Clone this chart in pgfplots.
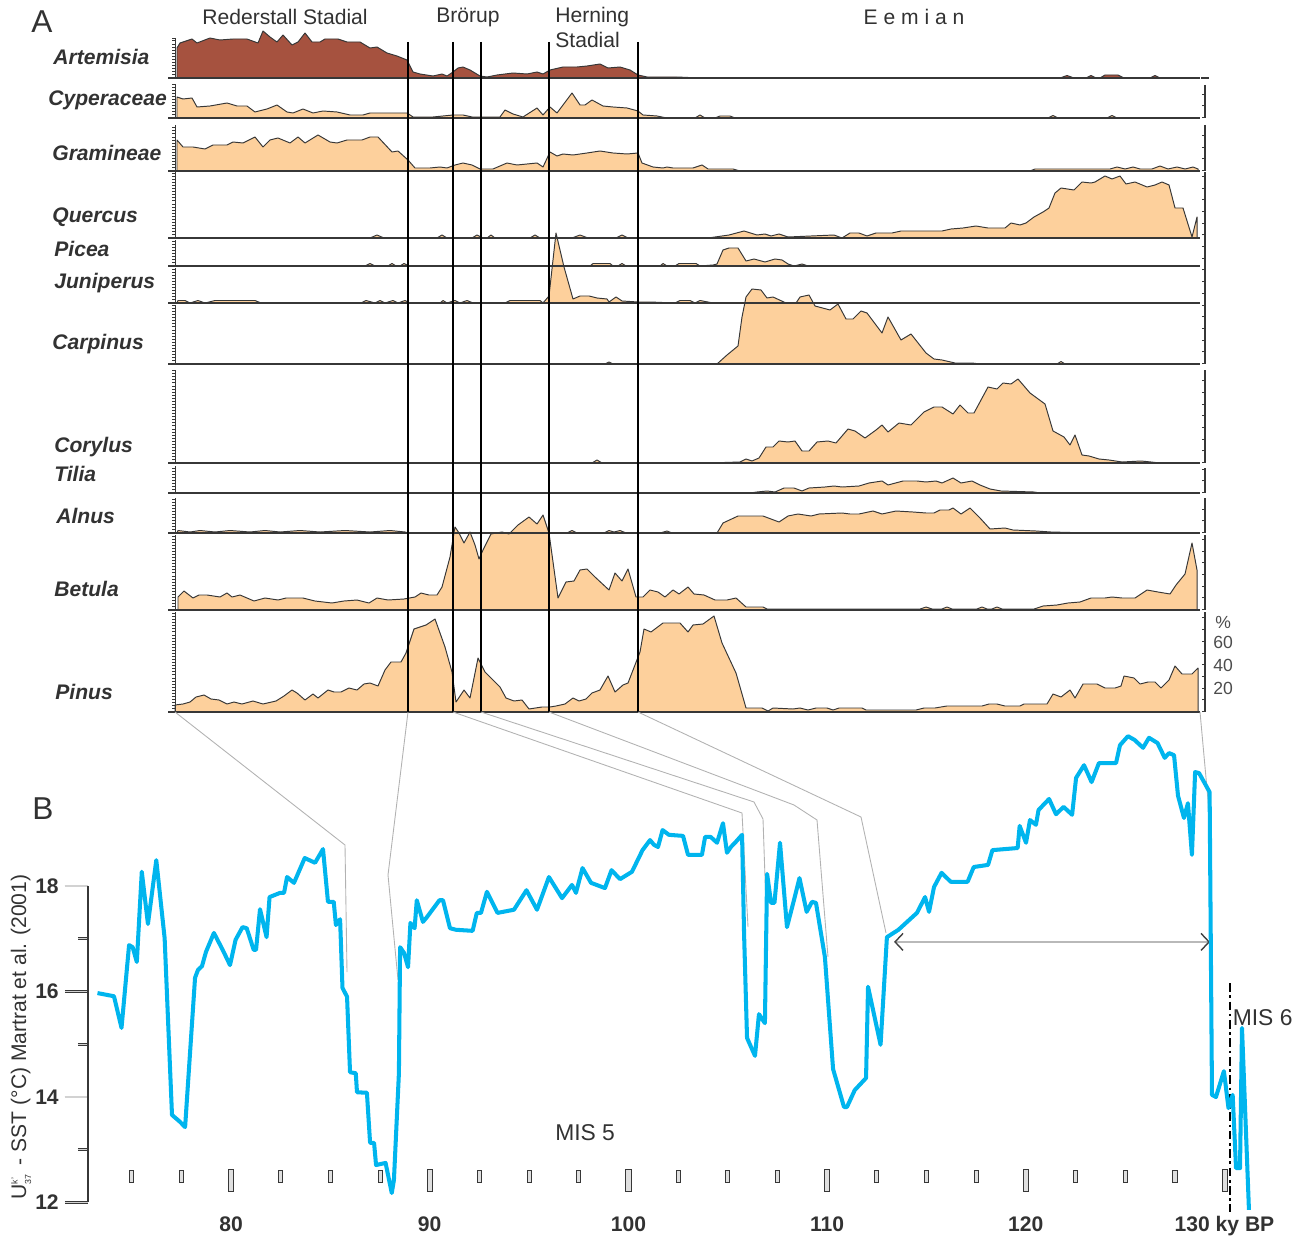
\documentclass[border=0pt]{standalone}
\usepackage{pgfplots}
\pgfplotsset{compat=1.18}
\usepackage{pgfplotstable}
\usepackage{fontspec}
\setmainfont{Liberation Sans}
\usetikzlibrary{arrows.meta}

\definecolor{pol}{RGB}{253,208,156}
\definecolor{artred}{RGB}{166,82,63}
\definecolor{outl}{RGB}{55,55,55}
\definecolor{sst}{RGB}{0,181,238}
\definecolor{txt}{RGB}{50,50,50}

% pollen strips: x = sample position (depth axis, px), h = curve height above strip baseline
\pgfplotstableread[row sep=\\]{x h\\177 0\\177 30\\180 35\\192 39\\197 35\\210 40\\220 38\\233 39\\247 39\\258 35\\263 47\\270 41\\277 36\\283 43\\292 33\\298 36\\305 45\\312 36\\320 36\\325 39\\338 39\\347 36\\360 36\\370 30\\377 31\\387 25\\397 22\\407 18\\413 6\\420 4\\433 2\\442 4\\447 2\\453 6\\458 10\\463 11\\470 8\\480 2\\487 1\\497 3\\513 5\\527 4\\537 6\\543 4\\550 8\\563 11\\577 11\\587 12\\600 14\\608 10\\620 11\\630 8\\638 3\\647 1\\677 1\\700 0\\1060 0\\1067 2.5\\1074 0\\1086 0\\1091 2.5\\1096 0\\1100 0\\1105 3\\1118 3\\1124 0\\1150 0\\1155 2.5\\1160 0\\1198 0\\}\tArt
\pgfplotstableread[row sep=\\]{x h\\177 0\\177 21\\183 19\\192 20\\197 11\\210 12\\227 15\\237 12\\247 12\\255 6\\267 9\\277 13\\287 6\\293 5\\303 9\\313 5\\323 7\\337 6\\350 3\\363 3\\370 5\\407 5\\413 1\\433 1\\453 3\\463 3\\472 1\\500 1\\505 8\\513 4\\523 1\\537 10\\543 3\\550 11\\557 5\\572 25\\580 13\\585 13\\592 18\\603 12\\613 11\\627 10\\638 7\\643 3\\657 2\\667 0\\695 0\\700 3\\705 0\\715 0\\720 2\\730 2\\735 0\\1048 0\\1053 2.5\\1058 0\\1107 0\\1112 2.5\\1117 0\\1198 0\\}\tCyp
\pgfplotstableread[row sep=\\]{x h\\177 0\\177 31\\183 24\\193 24\\205 22\\213 26\\227 26\\233 29\\243 28\\255 34\\263 24\\270 31\\278 33\\290 28\\298 34\\305 28\\318 36\\330 29\\337 28\\347 31\\362 31\\370 34\\378 34\\392 19\\398 20\\408 11\\415 3\\430 3\\440 4\\447 3\\455 6\\463 8\\472 6\\480 2\\493 2\\507 8\\517 6\\537 8\\543 4\\550 19\\557 15\\563 17\\573 16\\587 18\\600 20\\613 18\\627 17\\638 18\\642 8\\653 4\\663 3\\667 4\\673 3\\693 3\\702 6\\708 2\\733 2\\740 0\\1030 0\\1035 2\\1110 2\\1117 4\\1125 2\\1133 4\\1140 2\\1152 2\\1160 5\\1168 2\\1177 4\\1185 2\\1193 4\\1198 2\\1198 0\\}\tGra
\pgfplotstableread[row sep=\\]{x h\\177 0\\370 0\\377 3\\384 0\\437 0\\442 3\\447 0\\472 0\\477 3\\483 0\\487 0\\491 3\\495 0\\530 0\\535 3\\540 0\\572 0\\580 3\\588 0\\616 0\\622 3\\628 0\\708 0\\729 3\\744 7\\757 3\\765 4\\771 2\\779 4\\788 1\\834 3\\842 0\\850 5\\859 5\\867 2\\876 5\\892 5\\901 7\\942 7\\951 9\\963 10\\976 12\\988 10\\1005 10\\1011 15\\1020 13\\1026 15\\1034 21\\1043 26\\1049 30\\1055 45\\1061 50\\1074 48\\1082 56\\1091 55\\1095 56\\1105 62\\1112 59\\1120 62\\1126 54\\1135 56\\1147 51\\1155 53\\1162 56\\1169 53\\1175 30\\1183 30\\1192 1\\1197 21\\1197 0\\}\tQue
\pgfplotstableread[row sep=\\]{x h\\177 0\\365 0\\370 2.5\\375 0\\388 0\\392 2.5\\396 0\\400 0\\404 2.5\\409 0\\590 0\\593 2.5\\610 2.5\\613 0\\618 0\\622 2.5\\626 0\\660 0\\663 2.5\\667 0\\675 0\\679 2.5\\696 2.5\\700 0\\713 1\\717 2\\723 16\\729 18\\738 18\\746 5\\754 7\\765 4\\775 7\\782 6\\788 2\\794 0\\802 2\\808 0\\1198 0\\}\tPic
\pgfplotstableread[row sep=\\]{x h\\177 0\\178 2.5\\185 2.5\\190 0\\198 2.5\\205 0\\215 2.5\\255 2.5\\261 0\\361 0\\366 2.5\\375 0\\380 2.5\\385 0\\393 2.5\\398 0\\405 2.5\\410 0\\440 0\\443 2.5\\447 0\\455 2.5\\460 0\\467 2.5\\473 0\\505 0\\510 2.5\\540 2.5\\543 0\\549 7\\556 70\\564 36\\573 4\\580 7\\589 7\\597 5\\607 4\\609 1\\616 6\\622 2\\638 1\\650 1\\675 0\\680 2.5\\690 2.5\\695 0\\700 2.5\\713 0\\1198 0\\}\tJun
\pgfplotstableread[row sep=\\]{x h\\177 0\\605 0\\609 2\\613 0\\717 0\\727 9\\738 18\\742 47\\746 67\\752 75\\761 74\\767 66\\773 67\\786 61\\796 61\\800 67\\809 69\\815 58\\830 54\\838 60\\846 45\\853 45\\861 53\\867 51\\882 31\\888 47\\901 24\\911 30\\926 11\\934 5\\942 4\\955 1\\972 1\\980 0\\1057 0\\1061 2.5\\1065 0\\1198 0\\}\tCar
\pgfplotstableread[row sep=\\]{x h\\177 0\\592 0\\597 3\\602 0\\708 0\\740 1\\746 4\\752 2\\759 5\\766 16\\773 16\\779 22\\788 21\\795 22\\802 12\\809 12\\817 21\\828 22\\836 20\\848 34\\855 32\\865 25\\876 33\\882 38\\888 31\\899 40\\911 38\\924 51\\934 56\\942 56\\953 49\\960 58\\968 50\\974 50\\988 76\\997 74\\1003 80\\1011 79\\1018 84\\1030 70\\1045 59\\1053 32\\1064 26\\1070 18\\1075 28\\1082 8\\1089 7\\1099 4\\1109 3\\1122 1\\1141 2\\1151 1\\1160 0\\1198 0\\}\tCor
\pgfplotstableread[row sep=\\]{x h\\177 0\\750 0\\757 1\\767 2\\775 1\\784 5\\794 5\\802 2\\809 5\\825 6\\834 7\\842 6\\859 7\\869 10\\882 12\\888 8\\903 12\\917 12\\926 11\\936 12\\942 10\\953 15\\961 10\\972 12\\980 8\\990 4\\1001 2\\1034 1\\1040 0\\1198 0\\}\tTil
\pgfplotstableread[row sep=\\]{x h\\177 0\\178 2.5\\190 1\\200 2.5\\215 1\\230 2.5\\250 1\\265 2.5\\280 1\\300 2.5\\320 1\\345 2.5\\370 1\\390 2.5\\405 1\\408 0\\560 0\\567 0\\572 2.5\\577 0\\604 0\\609 2.5\\614 1\\620 2.5\\626 0\\660 0\\667 2\\672 0\\717 0\\723 10\\738 17\\763 17\\779 11\\788 17\\798 19\\811 17\\819 19\\842 20\\850 19\\859 19\\873 22\\882 19\\896 22\\913 21\\926 20\\934 20\\940 23\\949 23\\953 25\\961 19\\970 25\\980 15\\990 4\\1005 5\\1013 3\\1036 2\\1051 1\\1091 0\\1198 0\\}\tAln
\pgfplotstableread[row sep=\\]{x h\\178 0\\178 13\\184 19\\193 12\\199 15\\207 15\\220 13\\227 17\\232 13\\240 15\\254 9\\265 12\\278 10\\286 12\\303 12\\315 9\\332 7\\344 9\\357 10\\369 7\\377 12\\388 10\\404 11\\415 13\\421 17\\429 15\\437 15\\442 23\\450 53\\455 83\\459 77\\464 67\\470 78\\475 65\\479 51\\483 60\\491 76\\502 78\\509 76\\518 85\\529 93\\537 86\\543 95\\549 77\\558 12\\566 28\\574 29\\580 40\\587 41\\595 33\\609 20\\615 37\\622 29\\628 41\\636 13\\643 13\\650 20\\658 18\\665 13\\673 20\\679 16\\688 23\\694 16\\704 15\\715 10\\727 10\\736 12\\746 3\\763 3\\767 1\\920 1\\926 3\\932 1\\942 1\\947 3\\952 1\\977 1\\982 3\\987 1\\992 1\\997 3\\1002 1\\1034 1\\1043 4\\1057 5\\1068 7\\1080 8\\1091 12\\1105 12\\1112 13\\1122 12\\1135 12\\1147 20\\1158 18\\1170 16\\1176 25\\1185 36\\1192 67\\1197 40\\1197 0\\}\tBet
\pgfplotstableread[row sep=\\]{x h\\175 0\\175 7\\183 8\\190 10\\196 15\\204 17\\211 13\\219 12\\227 8\\234 10\\242 8\\253 11\\263 8\\276 11\\284 16\\292 22\\297 19\\305 12\\313 18\\318 14\\328 22\\334 20\\341 20\\349 24\\357 22\\364 28\\370 29\\378 26\\385 42\\391 50\\401 50\\406 59\\414 83\\426 87\\435 93\\445 65\\452 40\\456 10\\464 22\\470 14\\478 54\\485 40\\491 34\\500 25\\506 14\\514 11\\522 12\\529 3\\542 5\\550 5\\556 6\\565 8\\573 14\\579 11\\586 13\\592 19\\600 22\\608 36\\615 20\\623 27\\628 29\\640 60\\644 83\\651 80\\663 89\\680 89\\688 80\\693 87\\703 88\\714 96\\722 69\\736 39\\746 4\\762 4\\768 1\\773 4\\793 3\\800 4\\808 2\\816 4\\827 4\\833 2\\839 4\\862 4\\866 2\\916 2\\924 4\\935 4\\947 6\\982 6\\989 8\\997 8\\1005 6\\1020 6\\1024 8\\1047 8\\1053 18\\1061 15\\1070 22\\1075 14\\1083 28\\1097 28\\1105 24\\1115 24\\1121 26\\1124 36\\1134 34\\1140 28\\1148 30\\1155 30\\1161 24\\1169 32\\1175 46\\1182 38\\1192 38\\1198 44\\1198 0\\}\tPin

% SST record: age (ky BP), Uk'37 SST (deg C)
\pgfplotstableread[row sep=\\]{x y\\73.28 15.97\\74.11 15.91\\74.49 15.31\\74.87 16.88\\75.05 16.84\\75.26 16.56\\75.51 18.27\\75.82 17.28\\76.24 18.49\\76.66 17.01\\77.03 13.66\\77.43 13.53\\77.69 13.43\\78.19 16.26\\78.34 16.41\\78.54 16.48\\78.74 16.75\\79.14 17.11\\79.58 16.79\\79.95 16.50\\80.23 16.98\\80.58 17.22\\80.79 17.20\\81.14 16.79\\81.26 16.79\\81.46 17.56\\81.79 17.03\\81.94 17.79\\82.47 17.87\\82.67 17.87\\82.82 18.17\\83.17 18.06\\83.71 18.53\\84.23 18.44\\84.63 18.70\\84.88 17.70\\85.17 17.70\\85.28 17.26\\85.49 17.37\\85.61 16.07\\85.84 15.90\\85.99 14.47\\86.28 14.45\\86.34 14.09\\86.84 14.08\\87.00 13.13\\87.20 13.13\\87.30 12.71\\87.78 12.75\\88.09 12.18\\88.20 12.43\\88.45 14.45\\88.51 16.84\\88.71 16.73\\88.91 16.46\\89.03 17.30\\89.24 17.20\\89.35 17.73\\89.66 17.32\\89.86 17.41\\90.49 17.73\\90.67 17.73\\91.02 17.20\\91.32 17.17\\92.16 17.15\\92.37 17.49\\92.58 17.49\\92.88 17.89\\93.41 17.49\\94.24 17.55\\94.87 17.92\\95.40 17.55\\96.00 18.17\\96.66 17.77\\97.16 18.02\\97.36 17.87\\97.69 18.34\\98.12 18.06\\98.82 17.96\\99.15 18.30\\99.58 18.13\\100.18 18.27\\100.71 18.68\\101.09 18.87\\101.29 18.78\\101.49 18.74\\101.72 19.06\\102.04 18.97\\102.75 18.95\\103.00 18.59\\103.70 18.59\\103.86 18.93\\104.14 18.93\\104.46 18.82\\104.76 19.19\\104.96 18.63\\105.16 18.74\\105.39 18.83\\105.72 18.97\\105.82 17.11\\105.97 15.12\\106.37 14.78\\106.57 15.57\\106.87 15.40\\106.98 18.23\\107.18 17.68\\107.35 17.68\\107.63 18.82\\107.98 17.22\\108.33 17.73\\108.61 18.15\\108.97 17.51\\109.24 17.70\\109.44 17.68\\109.89 16.65\\110.30 14.53\\110.85 13.81\\111.00 13.81\\111.39 14.13\\111.96 14.36\\112.06 16.09\\112.69 14.99\\113.01 17.03\\113.59 17.17\\114.52 17.49\\114.93 17.79\\115.13 17.51\\115.38 17.98\\115.76 18.25\\116.22 18.08\\117.07 18.08\\117.38 18.36\\118.10 18.40\\118.32 18.68\\119.59 18.72\\119.69 19.14\\120.01 18.82\\120.21 19.25\\120.51 19.16\\120.64 19.44\\121.17 19.65\\121.52 19.36\\121.90 19.50\\122.33 19.35\\122.53 20.05\\122.93 20.29\\123.31 19.97\\123.68 20.33\\124.54 20.33\\124.74 20.67\\125.14 20.84\\125.47 20.77\\125.90 20.62\\126.20 20.81\\126.63 20.71\\126.99 20.43\\127.21 20.52\\127.46 20.48\\127.66 19.71\\127.96 19.29\\128.16 19.57\\128.36 18.59\\128.52 20.16\\128.72 20.14\\129.25 19.78\\129.37 14.04\\129.57 14.00\\129.97 14.49\\130.20 13.79\\130.41 14.04\\130.58 12.65\\130.78 12.65\\130.88 15.31\\131.23 11.86\\}\tSST

\pgfplotsset{strip/.style={fill=#1, draw=outl, line width=0.55pt, line join=round, mark=none}}
\newcommand{\taxfont}{\bfseries\itshape\fontsize{12}{14}\selectfont}
\newcommand{\hdfont}{\fontsize{12}{14}\selectfont}
\newcommand{\ruler}[2]{%
  \draw[outl, line width=0.5pt] (axis cs:175,#1) -- (axis cs:175,#2);
  \draw[outl, line width=1.6pt, dash pattern=on 0.35pt off 1.4pt] (axis cs:173.3,#2) -- (axis cs:173.3,#1);}
\newcommand{\rruler}[2]{%
  \draw[outl, line width=0.6pt] (axis cs:1205,#1) -- (axis cs:1205,#2);
  \draw[outl, line width=1.6pt, dash pattern=on 0.5pt off 6.16pt] (axis cs:1203.4,#2) -- (axis cs:1203.4,#1);}
\newcommand{\baseln}[1]{\draw[outl, line width=1.1pt] (axis cs:168,#1) -- (axis cs:1200,#1);}
\tikzset{tax/.style={anchor=west, inner sep=0pt, text=txt, font=\taxfont}}

\begin{document}
\begin{tikzpicture}
\useasboundingbox (0,0) rectangle (261mm,248.6mm);
% ---------- Panel A: pollen diagram ----------
\begin{axis}[at={(0,0)}, anchor=south west, scale only axis,
  width=261mm, height=248.6mm, xmin=0, xmax=1305, ymin=0, ymax=1243,
  y dir=reverse, hide axis, clip=false]
\addplot[strip=artred] table[x=x, y expr=78-\thisrow{h}] {\tArt};
\addplot[strip=pol] table[x=x, y expr=118-\thisrow{h}] {\tCyp};
\addplot[strip=pol] table[x=x, y expr=171-\thisrow{h}] {\tGra};
\addplot[strip=pol] table[x=x, y expr=238-\thisrow{h}] {\tQue};
\addplot[strip=pol] table[x=x, y expr=266-\thisrow{h}] {\tPic};
\addplot[strip=pol] table[x=x, y expr=303-\thisrow{h}] {\tJun};
\addplot[strip=pol] table[x=x, y expr=364-\thisrow{h}] {\tCar};
\addplot[strip=pol] table[x=x, y expr=463-\thisrow{h}] {\tCor};
\addplot[strip=pol] table[x=x, y expr=493-\thisrow{h}] {\tTil};
\addplot[strip=pol] table[x=x, y expr=533-\thisrow{h}] {\tAln};
\addplot[strip=pol] table[x=x, y expr=610-\thisrow{h}] {\tBet};
\addplot[strip=pol] table[x=x, y expr=712-\thisrow{h}] {\tPin};
% baselines
\baseln{78}\baseln{118}\baseln{171}\baseln{238}\baseln{266}\baseln{303}
\baseln{364}\baseln{463}\baseln{493}\baseln{533}\baseln{610}\baseln{712}
\draw[outl, line width=1.1pt] (axis cs:1201,78) -- (axis cs:1209,78);
% left rulers
\ruler{38}{78}\ruler{84}{118}\ruler{125}{171}\ruler{172}{238}\ruler{240}{266}
\ruler{268}{303}\ruler{305}{364}\ruler{370}{463}\ruler{466}{493}\ruler{498}{533}
\ruler{535}{610}\ruler{612}{712}
% right rulers
\rruler{85}{118}\rruler{125}{171}\rruler{172}{364}\rruler{370}{463}\rruler{468}{493}
\rruler{498}{533}\rruler{535}{610}\rruler{612}{712}
% zone boundaries
\foreach \z in {408,453,481,549,638}{\edef\tmp{\noexpand\draw[black, line width=0.9pt] (axis cs:\z,42) -- (axis cs:\z,712);}\tmp}
% pinus scale
\node[anchor=west, inner sep=0pt, text=black!70, font=\fontsize{10}{10}\selectfont] at (axis cs:1213,688) {20};
\node[anchor=west, inner sep=0pt, text=black!70, font=\fontsize{10}{10}\selectfont] at (axis cs:1213,665) {40};
\node[anchor=west, inner sep=0pt, text=black!70, font=\fontsize{10}{10}\selectfont] at (axis cs:1213,642) {60};
\node[anchor=west, inner sep=0pt, text=black!70, font=\fontsize{10}{10}\selectfont] at (axis cs:1215,622) {\%};
% taxa names
\node[tax] at (axis cs:53,57) {Artemisia};
\node[tax] at (axis cs:48,100) {Cyperaceae};
\node[tax] at (axis cs:52,153) {Gramineae};
\node[tax] at (axis cs:52,217) {Quercus};
\node[tax] at (axis cs:54,249) {Picea};
\node[tax] at (axis cs:54,283) {Juniperus};
\node[tax] at (axis cs:52,344) {Carpinus};
\node[tax] at (axis cs:54,447) {Corylus};
\node[tax] at (axis cs:54,474) {Tilia};
\node[tax] at (axis cs:56,516) {Alnus};
\node[tax] at (axis cs:54,589) {Betula};
\node[tax] at (axis cs:55,692) {Pinus};
% headings
\node[text=txt, font=\fontsize{18}{18}\selectfont] at (axis cs:42,22) {A};
\node[text=txt, font=\fontsize{18}{18}\selectfont] at (axis cs:43,809) {B};
\node[text=txt, font=\hdfont] at (axis cs:285,17) {Rederstall Stadial};
\node[text=txt, font=\hdfont] at (axis cs:468,17) {Brörup};
\node[anchor=west, inner sep=0pt, text=txt, font=\hdfont] at (axis cs:555,17) {Herning};
\node[anchor=west, inner sep=0pt, text=txt, font=\hdfont] at (axis cs:555,40) {Stadial};
\node[text=txt, font=\hdfont] at (axis cs:914,17) {E e m i a n};
% correlation lines
\draw[gray!60, line width=0.5pt] (axis cs:175,712) -- (axis cs:345,845) -- (axis cs:347,972);
\draw[gray!60, line width=0.5pt] (axis cs:408,712) -- (axis cs:388,875) -- (axis cs:398,980);
\draw[gray!60, line width=0.5pt] (axis cs:453,712) -- (axis cs:742,813) -- (axis cs:748,927);
\draw[gray!60, line width=0.5pt] (axis cs:481,712) -- (axis cs:754,802) -- (axis cs:763,819) -- (axis cs:766,907);
\draw[gray!60, line width=0.5pt] (axis cs:549,712) -- (axis cs:794,805) -- (axis cs:817,820) -- (axis cs:828,957);
\draw[gray!60, line width=0.5pt] (axis cs:638,712) -- (axis cs:861,817) -- (axis cs:886,933);
\draw[gray!60, line width=0.5pt] (axis cs:1200,712) -- (axis cs:1208,800) -- (axis cs:1211,860);
% y label of panel B
\node[rotate=90, text=txt, font=\fontsize{12}{12}\selectfont] at (axis cs:21,1037)
  {U\rlap{\raisebox{0.75ex}{\tiny k'}}\raisebox{-0.45ex}{\tiny 37}\, - SST (°C) Martrat et al. (2001)};
\end{axis}
% ---------- Panel B: SST ----------
\begin{axis}[at={(17.588mm,8.1mm)}, anchor=south west,
  x=3.974mm, y=10.55mm, xmin=72.8, xmax=132, ymin=12, ymax=18,
  axis y line*=left, axis x line*=bottom, x axis line style={draw=none},
  y axis line style={outl, line width=1pt},
  clip=false,
  xtick={80,90,100,110,120,130}, xticklabels={80,90,100,110,120,{130 ky BP}},
  xtick style={draw=none},
  ytick={12,14,16,18}, minor ytick={13,15,17},
  tick align=outside, major tick length=4.6mm, minor tick length=2mm,
  ytick style={draw=outl, line width=0.5pt, double=gray!35, double distance=0.7pt},
  /pgf/number format/assume math mode=true,
  ticklabel style={font=\bfseries\fontsize{12}{12}\selectfont, text=txt},
  xticklabel style={anchor=base, yshift=-1.2mm},
]
% age scale marks (hollow bars every 2.5 ky)
\addplot[only marks, mark=square*, mark size=1.2mm,
  mark options={xscale=0.35, fill=gray!25, draw=outl, line width=0.45pt}]
  coordinates {(75,12.5) (77.5,12.5) (82.5,12.5) (85,12.5) (87.5,12.5) (92.5,12.5) (95,12.5) (97.5,12.5) (102.5,12.5) (105,12.5) (107.5,12.5) (112.5,12.5) (115,12.5) (117.5,12.5) (122.5,12.5) (125,12.5) (127.5,12.5)};
\addplot[only marks, mark=square*, mark size=2.2mm,
  mark options={xscale=0.23, fill=gray!25, draw=outl, line width=0.45pt}]
  coordinates {(80,12.41) (90,12.41) (100,12.41) (110,12.41) (120,12.41) (130,12.41)};
\draw[gray!55, line width=0.8pt, {Straight Barb[length=1.6mm, width=3.4mm, color=black!75, line width=0.8pt]}-{Straight Barb[length=1.6mm, width=3.4mm, color=black!75, line width=0.8pt]}]
  (axis cs:113.37,16.94) -- (axis cs:129.27,16.94);
\draw[black, line width=0.9pt, dash pattern=on 5pt off 2pt on 1.5pt off 2pt] (axis cs:130.28,16.16) -- (axis cs:130.28,11.82);
\addplot[sst, line width=2.3pt, line join=round, mark=none] table[x=x, y=y] {\tSST};
\node[text=txt, font=\fontsize{13}{13}\selectfont] at (axis cs:97.82,13.32) {MIS 5};
\node[anchor=west, text=txt, font=\fontsize{13}{13}\selectfont, inner sep=0pt] at (axis cs:130.4,15.5) {MIS 6};
\end{axis}
\end{tikzpicture}
\end{document}
